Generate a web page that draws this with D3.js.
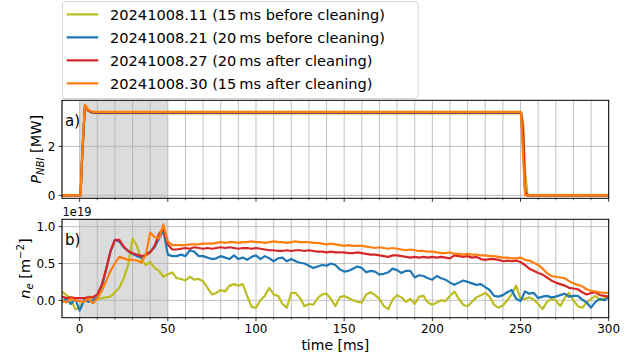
<!DOCTYPE html>
<html><head><meta charset="utf-8">
<script src="https://cdn.jsdelivr.net/npm/d3@7"></script>
<style>
body{margin:0;background:#fff;}
svg{display:block;font-family:"DejaVu Sans",sans-serif;}
</style></head><body>
<svg id="chart" width="630" height="361"></svg>
<script>
// Discharges compared (legend order = drawing order)
const shotLabels = [
  "20241008.11 (15\u2009ms before cleaning)",
  "20241008.21 (20\u2009ms before cleaning)",
  "20241008.27 (20\u2009ms after cleaning)",
  "20241008.30 (15\u2009ms after cleaning)"
];
const shotColors = ["#bcbd22", "#1f77b4", "#d62728", "#ff7f0e"];

// NBI power waveform [MW]
const powerTime = [-10, 0.5, 1.5, 3, 5, 7, 10, 250.3, 251.5, 252.6, 254, 300];
const pOlive  = [0, 0, 1.6, 3.60, 3.43, 3.37, 3.35, 3.35, 3.00, 1.00, 0, 0];
const pBlue   = [0, 0, 1.7, 3.64, 3.45, 3.39, 3.37, 3.37, 2.00, 0.10, 0, 0];
const pRed    = [0, 0, 1.7, 3.67, 3.46, 3.40, 3.39, 3.39, 2.60, 0.20, 0, 0];
const pOrange = [0, 0, 1.8, 3.70, 3.48, 3.42, 3.41, 3.41, 1.50, 0.00, 0, 0];

// Line-integrated density [1e19 m^-2], sampled every 2.5 ms from -10 to 300 ms
const neTime = d3.range(-10, 300.001, 2.5);
const neOlive = [
  0.12, 0.07, 0.02, -0.12, -0.10,
  0.00, 0.05, 0.04, 0.01, 0.03, 0.04, 0.05, 0.11, 0.17, 0.30,
  0.48, 0.84, 0.74, 0.55, 0.48, 0.52, 0.44, 0.40, 0.32, 0.35,
  0.38, 0.30, 0.29, 0.27, 0.32, 0.28, 0.29, 0.26, 0.17, 0.08,
  0.10, 0.14, 0.12, 0.20, 0.22, 0.20, 0.22, 0.06, -0.09, -0.10,
  0.00, 0.06, 0.17, 0.08, 0.06, -0.05, -0.10, 0.10, 0.10, 0.03,
  -0.08, -0.05, -0.06, 0.03, 0.08, 0.09, 0.02, -0.08, 0.04, 0.06,
  0.03, 0.00, -0.02, -0.03, 0.08, 0.11, 0.07, 0.02, -0.08, -0.12,
  0.01, 0.07, 0.04, -0.02, 0.02, -0.05, 0.05, 0.06, -0.03, -0.06,
  -0.03, 0.00, -0.01, 0.06, 0.12, 0.02, -0.06, -0.08, -0.02, 0.04,
  0.07, 0.10, 0.05, -0.06, -0.10, -0.07, 0.00, 0.08, 0.20, 0.02,
  0.02, 0.04, 0.01, -0.05, -0.12, -0.02, 0.02, 0.00, -0.08, 0.03,
  0.10, 0.00, -0.08, -0.10, -0.03, 0.02, 0.06, 0.00, 0.03, 0.05
];
const neBlue = [
  -0.03, 0.03, -0.05, 0.02, -0.14,
  0.00, -0.02, 0.00, 0.04, 0.17, 0.42, 0.66, 0.82, 0.80, 0.72,
  0.67, 0.63, 0.60, 0.58, 0.62, 0.66, 0.72, 0.84, 0.95, 0.62,
  0.60, 0.60, 0.62, 0.60, 0.68, 0.66, 0.60, 0.60, 0.58, 0.56,
  0.57, 0.60, 0.58, 0.56, 0.61, 0.56, 0.58, 0.55, 0.59, 0.61,
  0.56, 0.60, 0.57, 0.53, 0.57, 0.58, 0.53, 0.56, 0.53, 0.51,
  0.50, 0.47, 0.44, 0.46, 0.48, 0.47, 0.50, 0.48, 0.42, 0.39,
  0.40, 0.43, 0.46, 0.44, 0.38, 0.40, 0.39, 0.35, 0.36, 0.38,
  0.43, 0.41, 0.37, 0.40, 0.40, 0.31, 0.34, 0.33, 0.30, 0.28,
  0.33, 0.30, 0.28, 0.24, 0.21, 0.24, 0.27, 0.25, 0.23, 0.21,
  0.22, 0.18, 0.14, 0.06, 0.05, 0.07, 0.11, 0.14, 0.02, -0.01,
  0.12, 0.09, 0.10, 0.03, 0.05, 0.06, 0.04, 0.05, 0.07, 0.09,
  0.05, 0.06, 0.06, 0.01, -0.03, -0.10, -0.02, 0.02, 0.00, 0.04
];
const neRed = [
  0.05, 0.03, 0.04, 0.03, 0.03,
  0.03, 0.04, 0.04, 0.08, 0.21, 0.42, 0.67, 0.82, 0.82, 0.73,
  0.67, 0.64, 0.62, 0.60, 0.61, 0.65, 0.74, 0.90, 0.98, 0.76,
  0.69, 0.69, 0.70, 0.71, 0.70, 0.72, 0.71, 0.70, 0.71, 0.70,
  0.71, 0.72, 0.71, 0.72, 0.71, 0.70, 0.71, 0.71, 0.70, 0.71,
  0.70, 0.69, 0.68, 0.68, 0.67, 0.67, 0.68, 0.67, 0.68, 0.68,
  0.67, 0.68, 0.67, 0.66, 0.66, 0.65, 0.66, 0.65, 0.65, 0.65,
  0.64, 0.64, 0.65, 0.64, 0.63, 0.62, 0.62, 0.61, 0.60, 0.59,
  0.61, 0.61, 0.60, 0.59, 0.58, 0.59, 0.58, 0.59, 0.58, 0.59,
  0.58, 0.59, 0.58, 0.57, 0.61, 0.60, 0.59, 0.60, 0.58, 0.59,
  0.56, 0.55, 0.56, 0.56, 0.55, 0.53, 0.54, 0.53, 0.54, 0.52,
  0.48, 0.43, 0.40, 0.37, 0.35, 0.31, 0.27, 0.24, 0.22, 0.20,
  0.17, 0.16, 0.15, 0.11, 0.08, 0.10, 0.11, 0.07, 0.06, 0.05
];
const neOrange = [
  0.00, -0.03, 0.02, 0.00, -0.01,
  -0.02, 0.02, -0.04, 0.02, 0.13, 0.26, 0.40, 0.50, 0.59, 0.57,
  0.55, 0.55, 0.54, 0.51, 0.62, 0.92, 0.86, 0.84, 1.03, 0.80,
  0.75, 0.75, 0.75, 0.75, 0.76, 0.76, 0.76, 0.77, 0.77, 0.77,
  0.78, 0.79, 0.78, 0.79, 0.79, 0.78, 0.79, 0.79, 0.80, 0.79,
  0.79, 0.78, 0.79, 0.80, 0.79, 0.79, 0.78, 0.79, 0.80, 0.79,
  0.79, 0.79, 0.78, 0.78, 0.77, 0.76, 0.77, 0.76, 0.75, 0.74,
  0.75, 0.74, 0.74, 0.74, 0.73, 0.72, 0.71, 0.72, 0.71, 0.70,
  0.71, 0.70, 0.69, 0.68, 0.69, 0.68, 0.67, 0.67, 0.66, 0.66,
  0.65, 0.64, 0.64, 0.65, 0.63, 0.63, 0.62, 0.63, 0.62, 0.62,
  0.61, 0.61, 0.60, 0.60, 0.59, 0.58, 0.58, 0.57, 0.57, 0.58,
  0.55, 0.54, 0.51, 0.48, 0.43, 0.37, 0.33, 0.32, 0.31, 0.30,
  0.26, 0.23, 0.21, 0.19, 0.15, 0.13, 0.12, 0.11, 0.10, 0.10
];

// Ticks and the shaded heating-onset window
const xMajorTicks = [0, 50, 100, 150, 200, 250, 300];
const xMinorTicks = d3.range(-10, 301, 10);
const powerTicks = [0, 2];
const neTicks = [0.0, 0.5, 1.0];
const shadeWindow = [0, 50];

const powerSeries = [pOlive, pBlue, pRed, pOrange];
const neSeries = [neOlive, neBlue, neRed, neOrange];

const svg = d3.select("#chart");
const GRID = "#b0b0b0";

const x = d3.scaleLinear().domain([-10, 300]).range([62, 608.7]);
const yP = d3.scaleLinear().domain([-0.12, 3.88]).range([198.3, 100.3]);
const yN = d3.scaleLinear().domain([-0.236, 1.10]).range([317.7, 219.3]);

function panel(id, y, yTicks, yFmt, series, times, showXLabels, tag) {
  const [top, bottom] = [y.range()[1], y.range()[0]];
  const [left, right] = x.range();
  const g = svg.append("g");

  g.append("clipPath").attr("id", id).append("rect")
    .attr("x", left).attr("y", top).attr("width", right - left).attr("height", bottom - top);

  // shaded window
  g.append("rect")
    .attr("x", x(shadeWindow[0])).attr("y", top)
    .attr("width", x(shadeWindow[1]) - x(shadeWindow[0])).attr("height", bottom - top)
    .attr("fill", "#dcdcdc");

  // grid
  g.selectAll(".vg").data(xMinorTicks).join("line")
    .attr("x1", d => x(d)).attr("x2", d => x(d)).attr("y1", top).attr("y2", bottom)
    .attr("stroke", GRID).attr("stroke-width", 0.8);
  g.selectAll(".hg").data(yTicks).join("line")
    .attr("x1", left).attr("x2", right).attr("y1", d => y(d)).attr("y2", d => y(d))
    .attr("stroke", GRID).attr("stroke-width", 0.8);

  // data lines
  const lines = g.append("g").attr("clip-path", `url(#${id})`);
  series.forEach((vals, i) => {
    const line = d3.line().x((d, j) => x(times[j])).y(d => y(d));
    lines.append("path").datum(vals).attr("d", line)
      .attr("fill", "none").attr("stroke", shotColors[i])
      .attr("stroke-width", 2.2).attr("stroke-linejoin", "round");
  });

  // frame
  g.append("rect").attr("x", left).attr("y", top)
    .attr("width", right - left).attr("height", bottom - top)
    .attr("fill", "none").attr("stroke", "#000").attr("stroke-width", 1);

  // x ticks
  g.selectAll(".xm").data(xMinorTicks.filter(d => !xMajorTicks.includes(d) && d > -10)).join("line")
    .attr("x1", d => x(d)).attr("x2", d => x(d)).attr("y1", bottom).attr("y2", bottom + 2)
    .attr("stroke", "#000").attr("stroke-width", 0.6);
  g.selectAll(".xM").data(xMajorTicks).join("line")
    .attr("x1", d => x(d)).attr("x2", d => x(d)).attr("y1", bottom).attr("y2", bottom + 3.5)
    .attr("stroke", "#000").attr("stroke-width", 0.8);
  if (showXLabels) {
    g.selectAll(".xl").data(xMajorTicks).join("text")
      .attr("x", d => x(d)).attr("y", bottom + 15.5)
      .attr("text-anchor", "middle").attr("font-size", 12).attr("fill", "#000")
      .text(d => d);
  }

  // y ticks
  g.selectAll(".yM").data(yTicks).join("line")
    .attr("x1", left - 3.5).attr("x2", left).attr("y1", d => y(d)).attr("y2", d => y(d))
    .attr("stroke", "#000").attr("stroke-width", 0.8);
  g.selectAll(".yl").data(yTicks).join("text")
    .attr("x", left - 6.5).attr("y", d => y(d) + 4.3)
    .attr("text-anchor", "end").attr("font-size", 12).attr("fill", "#000")
    .text(yFmt);

  // panel tag
  g.append("text").attr("x", left + 3).attr("y", top + 26)
    .attr("font-size", 15).attr("fill", "#000").text(tag);
  return g;
}

panel("clipP", yP, powerTicks, d => d3.format("d")(d), powerSeries, powerTime, false, "a)");
panel("clipN", yN, neTicks, d => d3.format(".1f")(d), neSeries, neTime, true, "b)");

// offset text for the density axis
svg.append("text").attr("x", 62.5).attr("y", 215.5)
  .attr("font-size", 11.5).attr("fill", "#000").text("1e19");

// axis labels
const pl = svg.append("text")
  .attr("transform", `translate(40.5,${(100.3 + 198.3) / 2}) rotate(-90)`)
  .attr("text-anchor", "middle").attr("font-size", 14.5).attr("fill", "#000");
pl.append("tspan").attr("font-style", "italic").text("P");
pl.append("tspan").attr("font-style", "italic").attr("font-size", "70%").attr("dy", 3).text("NBI");
pl.append("tspan").attr("dy", -3).text("\u00a0[MW]");

const nl = svg.append("text")
  .attr("transform", `translate(29.5,${(219.3 + 317.7) / 2}) rotate(-90)`)
  .attr("text-anchor", "middle").attr("font-size", 14.5).attr("fill", "#000");
nl.append("tspan").attr("font-style", "italic").text("n");
nl.append("tspan").attr("font-style", "italic").attr("font-size", "70%").attr("dy", 3).text("e");
nl.append("tspan").attr("dy", -3).text("\u00a0[m");
nl.append("tspan").attr("font-size", "70%").attr("dy", -6).text("\u22122");
nl.append("tspan").attr("dy", 6).text("]");

svg.append("text").attr("x", (62 + 608.7) / 2).attr("y", 350)
  .attr("text-anchor", "middle").attr("font-size", 14).attr("fill", "#000")
  .text("time [ms]");

// legend
const lg = svg.append("g");
lg.append("rect").attr("x", 62.5).attr("y", 1.5).attr("width", 355.5).attr("height", 97)
  .attr("rx", 3).attr("fill", "#fff").attr("fill-opacity", 0.8)
  .attr("stroke", "#d6d6d6").attr("stroke-width", 1);
shotLabels.forEach((lab, i) => {
  const cy = 14.3 + i * 23;
  lg.append("line").attr("x1", 66.7).attr("x2", 98.3).attr("y1", cy).attr("y2", cy)
    .attr("stroke", shotColors[i]).attr("stroke-width", 2.2);
  lg.append("text").attr("x", 110).attr("y", cy + 5.2)
    .attr("font-size", 14.6).attr("fill", "#000").text(lab);
});
</script>
</body></html>
